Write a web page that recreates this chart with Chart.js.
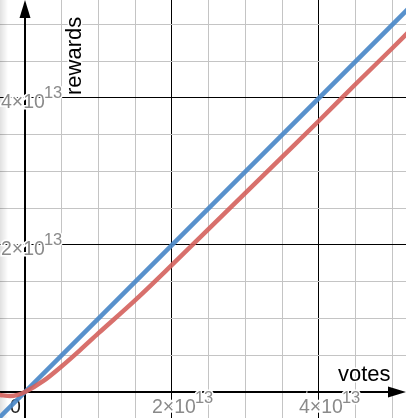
<!DOCTYPE html>
<html>
<head>
<meta charset="utf-8">
<script src="https://cdn.jsdelivr.net/npm/chart.js@4.4.0/dist/chart.umd.min.js"></script>
<style>
  html, body { margin: 0; padding: 0; background: #fff; }
  #wrap { width: 406px; height: 418px; }
</style>
</head>
<body>
<div id="wrap"><canvas id="graph"></canvas></div>
<script>
// all values in units of 1e13
var blueVotes   = [-0.4, 5.3];
var blueRewards = [-0.4, 5.3];

var redVotes   = [-0.35, -0.2, -0.1, 0, 0.25, 0.5, 0.75, 1.0, 1.5, 2.0, 2.5, 3.0, 3.5, 4.0, 4.5, 5.0, 5.3];
var redRewards = [-0.04, -0.055, -0.04, 0, 0.15, 0.35, 0.57, 0.8, 1.25, 1.73, 2.22, 2.71, 3.2, 3.69, 4.19, 4.68, 4.98];

var xTicks = [2, 4];
var yTicks = [2, 4];
var xName = 'votes';
var yName = 'rewards';

function pts(xs, ys) {
    var out = [];
    for (var i = 0; i < xs.length; i++) out.push({x: xs[i], y: ys[i]});
    return out;
}

function isMajor(v) {
    var k = v / 2;
    return Math.abs(k - Math.round(k)) < 1e-6 && Math.abs(v) > 1e-6;
}

function gridColor(c) {
    var v = c.tick ? c.tick.value : 1;
    if (Math.abs(v) < 1e-6) return 'rgba(0,0,0,0)';
    return isMajor(v) ? '#000' : '#c4c4c4';
}

function label(ctx, base, sup, x, y, color) {
    ctx.font = '19.5px "Liberation Sans", Arial, sans-serif';
    var w = ctx.measureText(base).width;
    ctx.lineWidth = 3;
    ctx.strokeStyle = '#fff';
    ctx.fillStyle = color;
    ctx.strokeText(base, x, y);
    ctx.fillText(base, x, y);
    if (sup) {
        ctx.font = '16.5px "Liberation Sans", Arial, sans-serif';
        ctx.strokeText(sup, x + w - 1, y - 10);
        ctx.fillText(sup, x + w - 1, y - 10);
    }
}

var axesPlugin = {
    id: 'axesPlugin',
    beforeDatasetsDraw: function(chart) {
        var ctx = chart.ctx;
        var xs = chart.scales.x, ys = chart.scales.y;
        var ox = Math.round(xs.getPixelForValue(0));
        var oy = Math.round(ys.getPixelForValue(0));
        var a = chart.chartArea;
        ctx.save();
        // left edge shade
        var g = ctx.createLinearGradient(0, 0, 8, 0);
        g.addColorStop(0, 'rgba(0,0,0,0.12)');
        g.addColorStop(1, 'rgba(0,0,0,0)');
        ctx.fillStyle = g;
        ctx.fillRect(0, 0, 8, a.bottom);
        // axes
        ctx.strokeStyle = '#000';
        ctx.lineWidth = 2;
        ctx.beginPath();
        ctx.moveTo(ox, a.bottom); ctx.lineTo(ox, a.top + 10);
        ctx.moveTo(a.left, oy); ctx.lineTo(a.right - 10, oy);
        ctx.stroke();
        ctx.fillStyle = '#000';
        ctx.beginPath();
        ctx.moveTo(ox, a.top); ctx.lineTo(ox - 5.5, a.top + 18); ctx.lineTo(ox + 5.5, a.top + 18);
        ctx.closePath(); ctx.fill();
        ctx.beginPath();
        ctx.moveTo(a.right, oy); ctx.lineTo(a.right - 18, oy - 5.5); ctx.lineTo(a.right - 18, oy + 5.5);
        ctx.closePath(); ctx.fill();

        // tick labels
        ctx.textBaseline = 'alphabetic';
        ctx.textAlign = 'left';
        yTicks.forEach(function(t) {
            label(ctx, t + '\u00d710', '13', 1, ys.getPixelForValue(t) + 10, '#8a8a8a');
        });
        xTicks.forEach(function(t) {
            label(ctx, t + '\u00d710', '13', xs.getPixelForValue(t) - 20, oy + 21, '#8a8a8a');
        });
        label(ctx, '0', '', ox - 15, oy + 21, '#222');

        // axis names
        ctx.font = '22px "Liberation Sans", Arial, sans-serif';
        ctx.fillStyle = '#000';
        ctx.strokeStyle = '#fff';
        ctx.lineWidth = 3;
        ctx.strokeText(xName, 338, oy - 11);
        ctx.fillText(xName, 338, oy - 11);
        ctx.translate(81, 95);
        ctx.rotate(-Math.PI / 2);
        ctx.strokeText(yName, 0, 0);
        ctx.fillText(yName, 0, 0);
        ctx.restore();
    }
};

new Chart(document.getElementById('graph'), {
    type: 'scatter',
    data: {
        datasets: [
            {
                label: 'red',
                data: pts(redVotes, redRewards),
                showLine: true,
                borderColor: 'rgba(212,96,92,0.9)',
                borderWidth: 4.5,
                pointRadius: 0,
                cubicInterpolationMode: 'monotone'
            },
            {
                label: 'blue',
                data: pts(blueVotes, blueRewards),
                showLine: true,
                borderColor: 'rgba(74,136,200,0.92)',
                borderWidth: 4.5,
                pointRadius: 0
            }
        ]
    },
    options: {
        responsive: true,
        maintainAspectRatio: false,
        animation: false,
        layout: { padding: 0 },
        plugins: { legend: { display: false }, tooltip: { enabled: false } },
        scales: {
            x: {
                type: 'linear',
                min: -0.34, max: 5.184,
                ticks: { display: false, stepSize: 0.5, includeBounds: false },
                border: { display: false },
                grid: { drawTicks: false, color: gridColor, lineWidth: 1 }
            },
            y: {
                type: 'linear',
                min: -0.354, max: 5.333,
                ticks: { display: false, stepSize: 0.5, includeBounds: false },
                border: { display: false },
                grid: { drawTicks: false, color: gridColor, lineWidth: 1 }
            }
        }
    },
    plugins: [axesPlugin]
});
</script>
</body>
</html>
